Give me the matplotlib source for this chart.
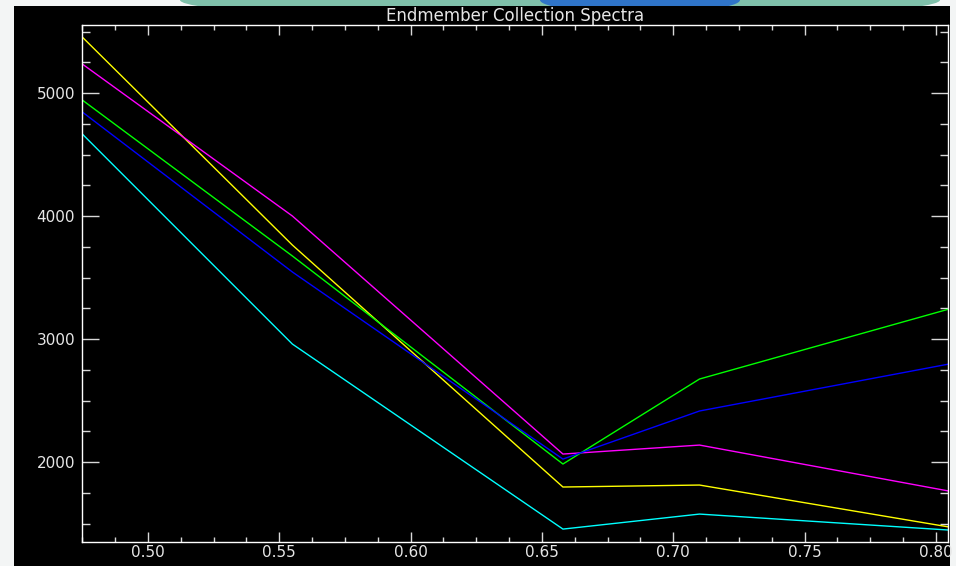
import matplotlib
matplotlib.use("Agg")
import matplotlib.pyplot as plt
from matplotlib.patches import Rectangle, Ellipse
from matplotlib.ticker import MultipleLocator, FormatStrFormatter

# wavelengths (um) and endmember spectra
wavelength = [0.475, 0.555, 0.658, 0.710, 0.805]
yellow = [5455, 3764, 1797, 1813, 1472]
magenta = [5236, 4000, 2065, 2138, 1764]
green = [4943, 3675, 1984, 2675, 3244]
blue = [4846, 3545, 2024, 2415, 2797]
cyan = [4667, 2959, 1455, 1577, 1447]

series = [
    (yellow, "#ffff00"),
    (magenta, "#ff00ff"),
    (green, "#00ff00"),
    (blue, "#0000ff"),
    (cyan, "#00ffff"),
]

W, H = 956, 566
fig = plt.figure(figsize=(W / 100, H / 100), dpi=100, facecolor="#f3f5f5")

# decorative strip at top of the slide
fig.patches.append(Ellipse((560 / W, 1.0), 760 / W, 40 / H, transform=fig.transFigure,
                           facecolor="#7fc0aa", edgecolor="none", zorder=0))
fig.patches.append(Ellipse((640 / W, 1.0), 200 / W, 26 / H, transform=fig.transFigure,
                           facecolor="#2f74c8", edgecolor="none", zorder=0))
# black window
fig.patches.append(Rectangle((14 / W, 0), 936 / W, 560 / H, transform=fig.transFigure,
                             facecolor="black", edgecolor="none", zorder=0))

ax = fig.add_axes([82 / W, (H - 542) / H, (948 - 82) / W, (542 - 25) / H])
ax.set_zorder(5)
ax.set_facecolor("black")

for vals, col in series:
    ax.plot(wavelength, vals, color=col, lw=1.0)

ax.set_xlim(0.4749, 0.8046)
ax.set_ylim(1350, 5553)

ax.xaxis.set_major_locator(MultipleLocator(0.05))
ax.xaxis.set_minor_locator(MultipleLocator(0.0125))
ax.xaxis.set_major_formatter(FormatStrFormatter("%.2f"))
ax.yaxis.set_major_locator(MultipleLocator(1000))
ax.yaxis.set_minor_locator(MultipleLocator(250))

for s in ax.spines.values():
    s.set_color("white")
    s.set_linewidth(1.0)

ax.tick_params(axis="both", which="both", direction="in", colors="#d8d8d8",
               top=True, right=True, labelcolor="#e6e6e6", labelsize=11)
ax.tick_params(axis="y", which="major", length=12, width=1, pad=5)
ax.tick_params(axis="y", which="minor", length=6, width=1)
ax.tick_params(axis="x", which="major", length=7, width=1, pad=2)
ax.tick_params(axis="x", which="minor", length=3.5, width=1)

ax.set_title("Endmember Collection Spectra", color="#e6e6e6", fontsize=12, pad=1)

fig.savefig("out.png", dpi=100, facecolor=fig.get_facecolor())
